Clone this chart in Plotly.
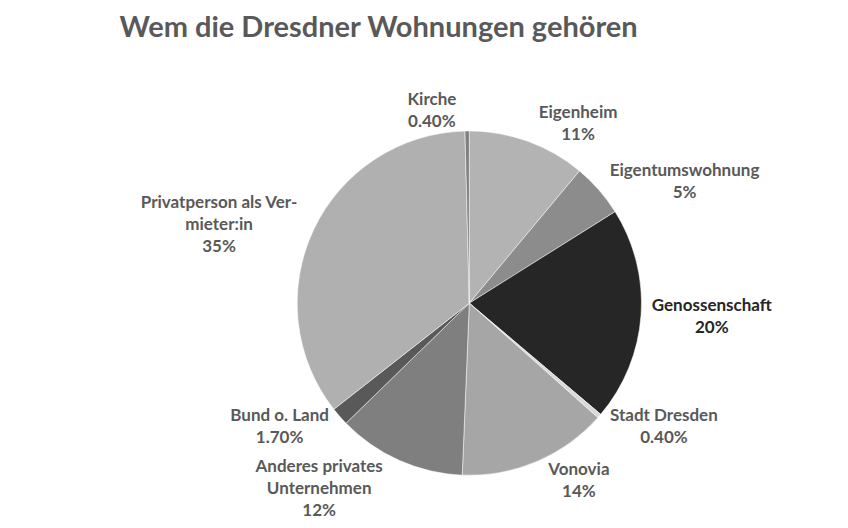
import plotly.graph_objects as go

# Daten
eigentuemer = ["Eigenheim", "Eigentumswohnung", "Genossenschaft", "Stadt Dresden", "Vonovia",
               "Anderes privates<br>Unternehmen", "Bund o. Land", "Privatperson als Ver-<br>mieter:in", "Kirche"]
anteile = [11, 5, 20, 0.4, 14, 12, 1.7, 35, 0.4]
anteil_text = ["11%", "5%", "20%", "0.40%", "14%", "12%", "1.70%", "35%", "0.40%"]

farben = ["#b3b3b3", "#8c8c8c", "#262626", "#d9d9d9", "#a6a6a6", "#7f7f7f", "#595959", "#b0b0b0", "#808080"]
textfarben = ["#595959", "#595959", "#262626", "#595959", "#595959", "#595959", "#595959", "#595959", "#595959"]

fig = go.Figure(go.Pie(
    labels=eigentuemer,
    values=anteile,
    customdata=anteil_text,
    texttemplate="%{label}<br>%{customdata}",
    textposition="outside",
    sort=False,
    direction="clockwise",
    rotation=0,
    marker=dict(colors=farben, line=dict(color="white", width=0.5)),
    outsidetextfont=dict(family="Lato", size=17, color=textfarben, weight="bold"),
    hoverinfo="label+percent",
    domain=dict(x=[0.341, 0.747], y=[0.115, 0.767]),
    showlegend=False,
))

fig.update_layout(
    title=dict(text="Wem die Dresdner Wohnungen gehören", x=0.437, xanchor="center",
               y=0.965, yanchor="middle",
               font=dict(family="Lato", size=29, color="#595959", weight="bold")),
    width=848, height=528,
    margin=dict(l=0, r=0, t=0, b=0),
    paper_bgcolor="white",
)

fig.write_html("out.html")
